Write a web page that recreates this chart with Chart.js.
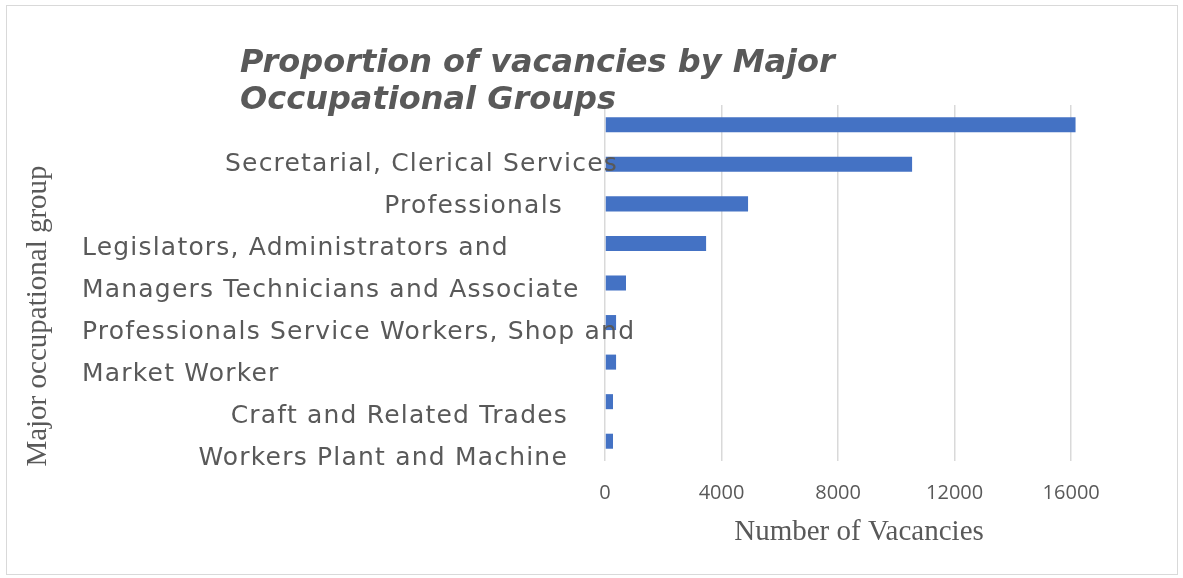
<!DOCTYPE html>
<html>
<head>
<meta charset="utf-8">
<script src="https://cdn.jsdelivr.net/npm/chart.js@4"></script>
<style>
  html, body { margin: 0; padding: 0; background: #fff; }
  #wrap { width: 1183px; height: 578px; }
</style>
</head>
<body>
<div id="wrap"><canvas id="vacChart" width="1183" height="578"></canvas></div>
<script>
// data (top bar first)
const categories = ['G1', 'G2', 'G3', 'G4', 'G5', 'G6', 'G7', 'G8', 'G9']
const vacancies = [16150, 10540, 4910, 3470, 720, 380, 380, 275, 275]
const xTicks = [0, 4000, 8000, 12000, 16000]

// the category text as it appears, one line per row
const labelLines = [
  '',
  'Secretarial, Clerical Services',
  'Professionals',
  'Legislators, Administrators and',
  'Managers Technicians and Associate',
  'Professionals Service Workers, Shop and',
  'Market Worker',
  'Craft and Related Trades',
  'Workers Plant and Machine'
]

const titleLines = ['Proportion of vacancies by Major', 'Occupational Groups']
const xTitle = 'Number of Vacancies'
const yTitle = 'Major occupational group'

const textColor = '#595959'

// where each label line sits: anchor side and x
const lineAnchors = [
  null,
  { align: 'right', x: 618 },
  { align: 'right', x: 563 },
  { align: 'left', x: 82 },
  { align: 'left', x: 82 },
  { align: 'left', x: 82 },
  { align: 'left', x: 82 },
  { align: 'right', x: 568 },
  { align: 'right', x: 568 }
]

const decor = {
  id: 'decor',
  beforeDraw(chart) {
    const ctx = chart.ctx
    ctx.save()
    ctx.strokeStyle = '#d9d9d9'
    ctx.lineWidth = 1
    ctx.strokeRect(6.5, 5.5, 1171, 569)
    ctx.restore()
  },
  afterDraw(chart) {
    const ctx = chart.ctx
    const y = chart.scales.y
    ctx.save()
    ctx.fillStyle = textColor
    ctx.textBaseline = 'middle'
    ctx.font = '25px "DejaVu Sans", sans-serif'
    ctx.letterSpacing = '1.2px'
    const start = y.getPixelForValue(1)
    for (let i = 1; i < labelLines.length; i++) {
      const a = lineAnchors[i]
      ctx.textAlign = a.align
      ctx.fillText(labelLines[i], a.x, start + (i - 1) * 42)
    }
    ctx.letterSpacing = '0px'

    // title
    ctx.font = 'italic bold 32px "DejaVu Sans", sans-serif'
    ctx.textAlign = 'left'
    ctx.textBaseline = 'alphabetic'
    ctx.fillText(titleLines[0], 240, 72)
    ctx.fillText(titleLines[1], 240, 109)

    // x axis title
    ctx.font = '29px "Liberation Serif", serif'
    ctx.textAlign = 'center'
    ctx.textBaseline = 'middle'
    ctx.fillText(xTitle, 859, 532)

    // y axis title
    ctx.translate(38, 316)
    ctx.rotate(-Math.PI / 2)
    ctx.fillText(yTitle, 0, 0)
    ctx.restore()
  }
}

new Chart(document.getElementById('vacChart'), {
  type: 'bar',
  data: {
    labels: categories,
    datasets: [
      {
        label: 'Vacancies',
        data: vacancies,
        backgroundColor: '#4472C4',
        barPercentage: 0.38,
        categoryPercentage: 1
      }
    ]
  },
  options: {
    indexAxis: 'y',
    responsive: false,
    animation: false,
    layout: {
      padding: { left: 605, top: 105, right: 106, bottom: 50 }
    },
    plugins: {
      legend: { display: false },
      tooltip: { enabled: false }
    },
    scales: {
      x: {
        min: 0,
        max: 16200,
        afterBuildTicks: (axis) => {
          axis.ticks = xTicks.map(v => ({ value: v }))
        },
        afterFit: (axis) => { axis.height = 67 },
        grid: { color: '#d9d9d9', lineWidth: 1.5, drawTicks: false },
        border: { display: false },
        ticks: {
          padding: 20,
          color: textColor,
          font: { family: 'Open Sans', size: 20 },
          callback: (v) => String(v)
        }
      },
      y: {
        afterFit: (axis) => { axis.width = 0 },
        ticks: { display: false },
        grid: { display: false },
        border: { display: false }
      }
    }
  },
  plugins: [decor]
})
</script>
</body>
</html>
